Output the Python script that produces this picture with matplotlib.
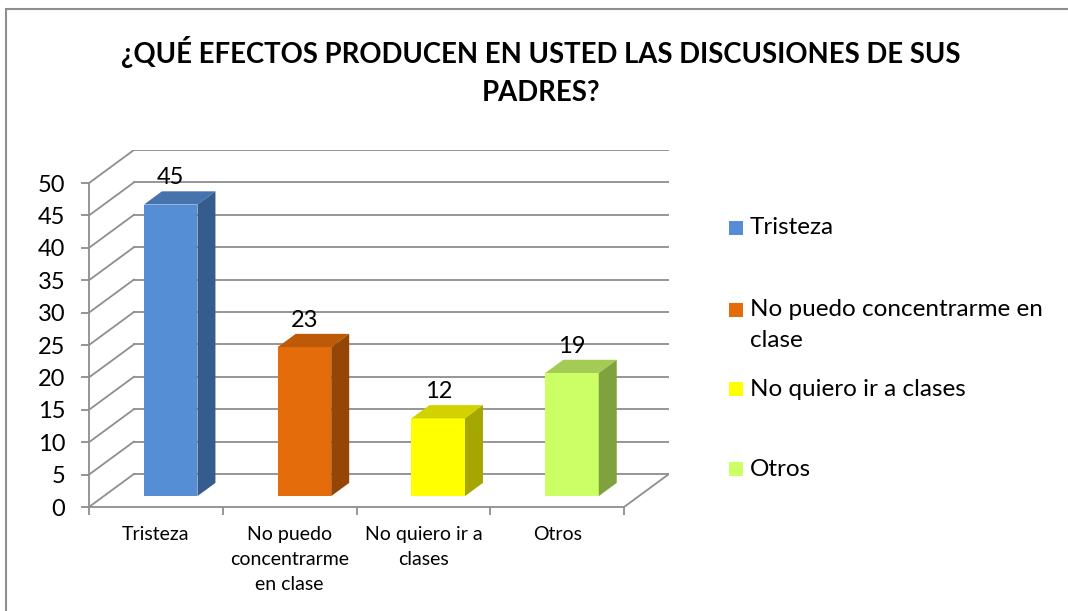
import matplotlib
matplotlib.use("Agg")
import matplotlib.pyplot as plt
from matplotlib.patches import Polygon, Rectangle

plt.rcParams['font.family'] = ['Lato', 'DejaVu Sans']

# ---------------- data ----------------
title = '¿QUÉ EFECTOS PRODUCEN EN USTED LAS DISCUSIONES DE SUS\nPADRES?'
categories = ['Tristeza', 'No puedo concentrarme en clase', 'No quiero ir a clases', 'Otros']
tick_labels = ['Tristeza', 'No puedo\nconcentrarme\nen clase', 'No quiero ir a\nclases', 'Otros']
legend_labels = ['Tristeza', 'No puedo concentrarme en\nclase', 'No quiero ir a clases', 'Otros']
values = [45, 23, 12, 19]
y_ticks = [0, 5, 10, 15, 20, 25, 30, 35, 40, 45, 50]

front_colors = ['#558ED5', '#E46C0A', '#FFFF00', '#CCFF66']
top_colors = ['#4672AE', '#BD5A08', '#D2D200', '#A4CC55']
side_colors = ['#365C8D', '#954506', '#A6A600', '#7FA23E']
grid_color = '#8E8E8E'

# pseudo 3d depth (in data units)
DX = 0.336
DY = 5.1
D0 = 0.33   # bar front depth
DD = 0.40   # bar depth
BW = 0.40   # bar width

W, H = 1068, 611
fig = plt.figure(figsize=(W / 100, H / 100), dpi=100)

def fx(px):
    return px / W

def fy(py):
    return 1 - py / H

ax = fig.add_axes([fx(89), fy(507), (669 - 89) / W, (507 - 150) / H])
ax.set_xlim(0, len(values) + DX)
ax.set_ylim(0, y_ticks[-1] + DY)
ax.patch.set_alpha(0)

# walls: back wall gridlines + left wall diagonals
n = len(values)
for t in y_ticks:
    ax.plot([DX, n + DX], [t + DY, t + DY], color=grid_color, lw=1.3, zorder=1)
    ax.plot([0, DX], [t, t + DY], color=grid_color, lw=1.3, zorder=1)
ax.plot([n, n + DX], [0, DY], color=grid_color, lw=1.3, zorder=1)

# spines / ticks
for s in ['top', 'right']:
    ax.spines[s].set_visible(False)
ax.spines['left'].set_bounds(0, y_ticks[-1])
ax.spines['bottom'].set_bounds(0, n)
for s in ['left', 'bottom']:
    ax.spines[s].set_color(grid_color)
    ax.spines[s].set_linewidth(1.3)

ax.set_yticks(y_ticks)
ax.set_yticklabels([str(t) for t in y_ticks])
ax.tick_params(axis='y', direction='out', length=6, width=1.3, color=grid_color,
               labelsize=17, pad=11)
ax.set_xticks(range(n + 1))
ax.set_xticklabels([])
ax.tick_params(axis='x', which='major', direction='out', length=6, width=1.3, color=grid_color)
ax.set_xticks([i + 0.5 for i in range(n)], minor=True)
ax.set_xticklabels(tick_labels, minor=True, fontsize=14, linespacing=1.55)
ax.tick_params(axis='x', which='minor', length=0, pad=14)

# bars
for i, v in enumerate(values):
    x0 = i + (1 - BW) / 2 + D0 * DX
    y0 = D0 * DY
    ax.bar(x0, v, width=BW, bottom=y0, align='edge', color=front_colors[i],
           edgecolor='none', zorder=3)
    top = Polygon([(x0, y0 + v), (x0 + BW, y0 + v),
                   (x0 + BW + DD * DX, y0 + v + DD * DY), (x0 + DD * DX, y0 + v + DD * DY)],
                  closed=True, facecolor=top_colors[i], edgecolor='none', zorder=3)
    side = Polygon([(x0 + BW, y0), (x0 + BW + DD * DX, y0 + DD * DY),
                    (x0 + BW + DD * DX, y0 + v + DD * DY), (x0 + BW, y0 + v)],
                   closed=True, facecolor=side_colors[i], edgecolor='none', zorder=3)
    ax.add_patch(top)
    ax.add_patch(side)
    ax.text(x0 + BW / 2, y0 + v + DD * DY + 1.1, str(v), ha='center', va='baseline',
            fontsize=17, zorder=4)

# title
fig.text(fx(541), fy(71), title, ha='center', va='center', fontsize=19.8,
         fontweight='bold', linespacing=1.55)

# legend (drawn by hand to keep the spread-out layout)
legend_y = [228, 310, 389, 469]
for lab, c, yy in zip(legend_labels, front_colors, legend_y):
    fig.add_artist(Rectangle((fx(729), fy(yy + 7)), 14 / W, 14 / H, transform=fig.transFigure,
                             facecolor=c, edgecolor='none'))
    fig.text(fx(750), fy(yy - 10.5), lab, ha='left', va='top', fontsize=17.5, linespacing=1.55)

# chart border
fig.add_artist(Rectangle((fx(6), fy(640)), 1.2, fy(9) - fy(640), transform=fig.transFigure,
                         fill=False, edgecolor=grid_color, lw=1.5, clip_on=False))

fig.savefig('out.png', dpi=100)
